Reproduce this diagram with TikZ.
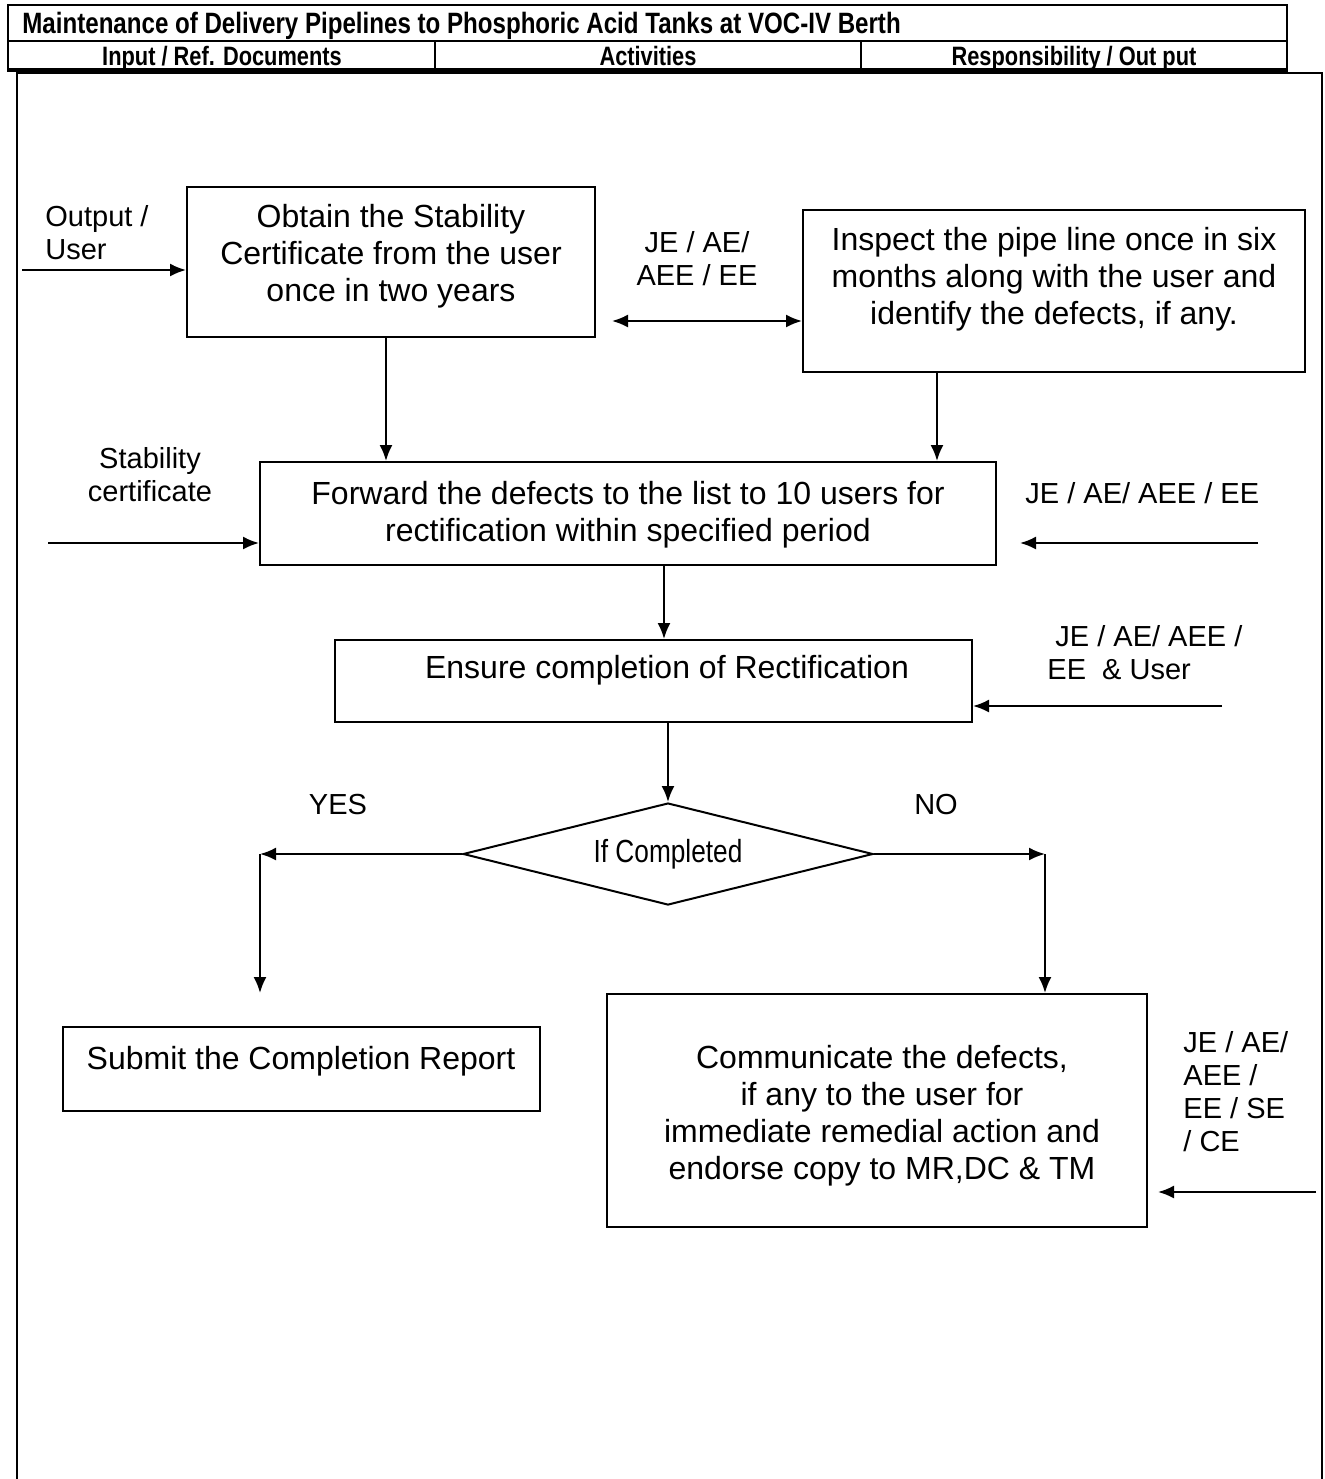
\documentclass[tikz,border=0pt]{standalone}
\usepackage{fontspec}
\setmainfont{Liberation Sans}
\newfontfamily\hdrfont[FakeStretch=0.82]{Liberation Sans}
\usetikzlibrary{arrows.meta,shapes.geometric}
\tikzset{
  box/.style={draw, line width=1pt, inner sep=0pt},
  txt/.style={align=center, font=\fontsize{16}{18.5}\selectfont, inner sep=0pt},
  lbl/.style={align=left, font=\fontsize{14.5}{16.5}\selectfont, inner sep=0pt},
  lblc/.style={align=center, font=\fontsize{14.5}{16.5}\selectfont, inner sep=0pt},
  hdr/.style={font=\hdrfont\bfseries\fontsize{13.3}{15}\selectfont, inner sep=0pt, anchor=base},
  arr/.style={line width=1pt, -{Latex[length=8pt,width=6.5pt]}},
  darr/.style={line width=1pt, {Latex[length=8pt,width=6.5pt]}-{Latex[length=8pt,width=6.5pt]}},
}
\begin{document}
\begin{tikzpicture}[x=0.5pt,y=-0.5pt]
\useasboundingbox (0,0) rectangle (1324,1479);
% header table
\draw[line width=1.2pt] (8,5) rectangle (1287,71);
\draw[line width=1.2pt] (8,41) -- (1287,41);
\draw[line width=1.2pt] (435,41) -- (435,71);
\draw[line width=1.2pt] (861,41) -- (861,71);
\draw[line width=2pt] (8,70) -- (1287,70);
\node[hdr, anchor=base west, font=\hdrfont\bfseries\fontsize{14.7}{16}\selectfont] (title) at (22,33) {Maintenance of Delivery Pipelines to Phosphoric Acid Tanks at VOC-IV Berth};
\node[hdr] (h1) at (222,65) {Input / Ref. Documents};
\node[hdr] (h2) at (648,65) {Activities};
\node[hdr] (h3) at (1074,65) {Responsibility / Out put};
% body frame
\draw[line width=1pt] (17,1479) -- (17,73) -- (1322,73) -- (1322,1479);

% boxes
\node[box, minimum width=204pt, minimum height=75pt] (b1) at (391,262) {};
\node[txt] (b1t) at (391,256) {Obtain the Stability\\Certificate from the user\\once in two years};
\node[box, minimum width=251pt, minimum height=81pt] (b2) at (1054,291) {};
\node[txt] (b2t) at (1054,279) {Inspect the pipe line once in six\\months along with the user and\\identify the defects, if any.};
\node[box, minimum width=368pt, minimum height=51.5pt] (b3) at (628,513.5) {};
\node[txt] (b3t) at (628,515) {Forward the defects to the list to 10 users for\\rectification within specified period};
\node[box, minimum width=318.5pt, minimum height=41pt] (b4) at (653.5,681) {};
\node[txt] (b4t) at (667,670) {Ensure completion of Rectification};
\node[draw, line width=1pt, shape=diamond, aspect=4, inner sep=0pt, minimum width=205pt, minimum height=51pt,
      font=\hdrfont\fontsize{16}{18}\selectfont] (dia) at (668,854) {If Completed};
\node[box, minimum width=238.5pt, minimum height=42pt] (b5) at (301.5,1069) {};
\node[txt] (b5t) at (301,1061) {Submit the Completion Report};
\node[box, minimum width=270pt, minimum height=116.5pt] (b6) at (877,1110.5) {};
\node[txt] (b6t) at (882,1116) {Communicate the defects,\\if any to the user for\\immediate remedial action and\\endorse copy to MR,DC \& TM};

% labels
\node[lbl, anchor=west] (l1) at (45,233) {Output /\\User};
\node[lblc] (l2) at (697,259) {JE / AE/\\AEE / EE};
\node[lblc] (l3) at (150,475) {Stability\\certificate};
\node[lbl, anchor=west] (l4) at (1025,493) {JE / AE/ AEE / EE};
\node[lbl, anchor=west] (l5) at (1047,653) {\hspace{4pt}JE / AE/ AEE /\\EE\ \ \& User};
\node[lbl, anchor=west] (l6) at (1183,1092) {JE / AE/\\AEE /\\EE / SE\\/ CE};
\node[lblc] (yes) at (338,805) {YES};
\node[lblc] (no) at (936,805) {NO};

% coordinates
\coordinate (in1) at (22,270);
\coordinate (d1) at (612,321);
\coordinate (c1) at (386,0);
\coordinate (c2) at (937,0);
\coordinate (in3) at (48,543);
\coordinate (r1) at (1258,543);
\coordinate (r1e) at (1020,543);
\coordinate (c3) at (664,0);
\coordinate (r2) at (1222,706);
\coordinate (yl) at (260,854);
\coordinate (yle) at (260,993);
\coordinate (nr) at (1045,854);
\coordinate (r3) at (1316,1192);
\coordinate (r3e) at (1158,1192);

% connectors
\draw[arr] (in1) -- (in1 -| b1.west);
\draw[darr] (d1) -- (d1 -| b2.west);
\draw[arr] (b1.south -| c1) -- (b3.north -| c1);
\draw[arr] (b2.south -| c2) -- (b3.north -| c2);
\draw[arr] (in3) -- (in3 -| b3.west);
\draw[arr] (r1) -- (r1e);
\draw[arr] (b3.south -| c3) -- (b4.north -| c3);
\draw[arr] (r2) -- (r2 -| b4.east);
\draw[arr] (dia.north |- b4.south) -- (dia.north);
\draw[arr] (dia.west) -- (yl);
\draw[arr] (yl) -- (yle);
\draw[arr] (dia.east) -- (nr);
\draw[arr] (nr) -- (nr |- b6.north);
\draw[arr] (r3) -- (r3e);
\end{tikzpicture}
\end{document}
